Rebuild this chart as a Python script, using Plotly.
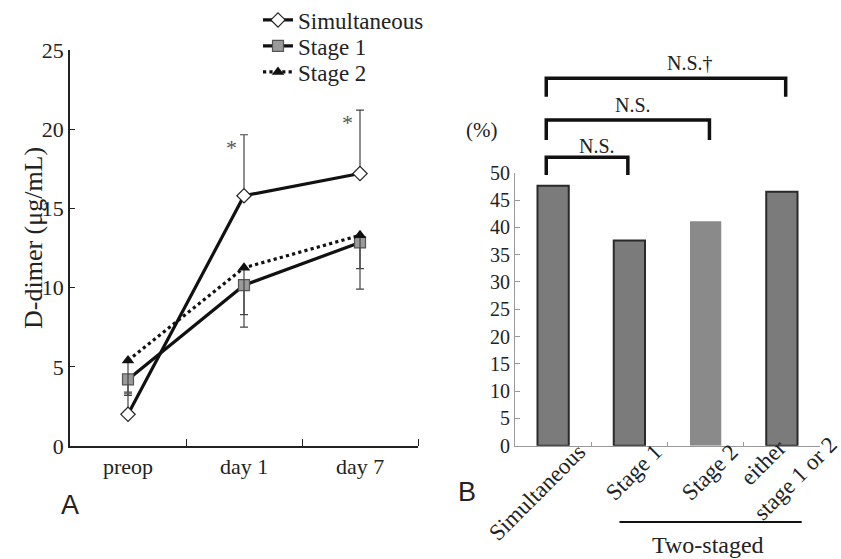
import plotly.graph_objects as go

# ---- data ----
timepoints = ["preop", "day 1", "day 7"]
sim_vals = [2.0, 15.8, 17.2]
sim_err_up = [1.3, 3.85, 4.0]
st1_vals = [4.2, 10.15, 12.85]
st1_err_dn = [1.0, 2.65, 2.95]
st2_vals = [5.4, 11.25, 13.3]
st2_err_dn = [2.0, 2.95, 2.1]
sig_marks = ["", "*", "*"]

bar_cats = ["Simultaneous", "Stage 1", "Stage 2", "either|stage 1 or 2"]
bar_vals = [47.6, 37.6, 41.1, 46.5]
bar_fill = ["#7b7b7b", "#7b7b7b", "#8a8a8a", "#7b7b7b"]
bar_edge_w = [2, 2, 0, 2]
brackets = [(1, "N.S."), (2, "N.S."), (3, "N.S.†")]

W, H = 841, 559
def py(p):
    return 1 - p / H
def px(p):
    return p / W

SERIF = "Liberation Serif, Times New Roman, serif"
SANS = "Liberation Sans, Arial, sans-serif"

fig = go.Figure()
xi = list(range(len(timepoints)))

fig.add_trace(go.Scatter(
    x=xi, y=sim_vals, name="Simultaneous", mode="lines+markers", legend="legend",
    line=dict(color="#111", width=3.2),
    marker=dict(symbol="diamond", size=11, color="white", line=dict(color="#222", width=1.2)),
    error_y=dict(type="data", symmetric=False, array=sim_err_up, arrayminus=[0, 0, 0],
                 color="#444", thickness=1.2, width=4),
    xaxis="x", yaxis="y"))
fig.add_trace(go.Scatter(
    x=xi, y=st1_vals, name="Stage 1", mode="lines+markers", legend="legend2",
    line=dict(color="#111", width=3.2),
    marker=dict(symbol="square", size=11, color="#9a9a9a", line=dict(color="#555", width=1.2)),
    error_y=dict(type="data", symmetric=False, array=[0, 0, 0], arrayminus=st1_err_dn,
                 color="#444", thickness=1.2, width=4),
    xaxis="x", yaxis="y"))
fig.add_trace(go.Scatter(
    x=xi, y=st2_vals, name="Stage 2", mode="lines+markers", legend="legend3",
    line=dict(color="#111", width=3.2, dash="dot"),
    marker=dict(symbol="triangle-up", size=11, color="#111"),
    error_y=dict(type="data", symmetric=False, array=[0, 0, 0], arrayminus=st2_err_dn,
                 color="#444", thickness=1.2, width=4),
    xaxis="x", yaxis="y"))

bi = list(range(len(bar_cats)))
fig.add_trace(go.Bar(
    x=bi, y=bar_vals, width=0.41, showlegend=False,
    marker=dict(color=bar_fill, line=dict(color="#2a2a2a", width=bar_edge_w)),
    xaxis="x2", yaxis="y2"))

annotations = []
shapes = []

def ann(**kw):
    kw.setdefault("showarrow", False)
    kw.setdefault("xanchor", "center")
    kw.setdefault("yanchor", "middle")
    annotations.append(kw)

# significance asterisks on panel A
for i, m in enumerate(sig_marks):
    if m:
        ann(x=i, y=sim_vals[i] + sim_err_up[i], xref="x", yref="y", text=m,
            yanchor="top", xshift=-13, yshift=2,
            font=dict(family=SERIF, size=22, color="#555"))

# brackets on panel B
br_y = [(0.7186, 0.6869, 0.739), (0.7853, 0.7496, 0.812), (0.860, 0.827, 0.887)]
label_x = [0.58, 1.05, 1.80]
right_x = [0.98, 2.05, 3.05]
for k, (j, lab) in enumerate(brackets):
    yt, yb, yl = br_y[k]
    x0 = -0.09
    x1 = right_x[k]
    shapes.append(dict(type="path", xref="x2", yref="paper",
                       path=f"M {x0},{yb} L {x0},{yt} L {x1},{yt} L {x1},{yb}",
                       line=dict(color="#111", width=3.5)))
    ann(x=label_x[k], y=yl, xref="x2", yref="paper", text=lab,
        font=dict(family=SERIF, size=20, color="#222"))

# rotated category labels for panel B (two-line label split into its lines)
ANG = -45
for i, c in enumerate(bar_cats):
    parts = c.split("|")
    if len(parts) == 1:
        ann(x=i, y=py(437), xref="x2", yref="paper", text=c, textangle=ANG,
            xanchor="right", yanchor="top", xshift=40,
            font=dict(family=SERIF, size=23, color="#222"))
    else:
        ann(x=i, y=py(432), xref="x2", yref="paper", text=parts[0], textangle=ANG,
            xanchor="right", yanchor="top", xshift=12,
            font=dict(family=SERIF, size=23, color="#222"))
        ann(x=i, y=py(429), xref="x2", yref="paper", text=parts[1], textangle=ANG,
            xanchor="right", yanchor="top", xshift=63,
            font=dict(family=SERIF, size=23, color="#222"))

# Two-staged group line + label
shapes.append(dict(type="line", xref="x2", yref="paper", x0=0.87, x1=3.26, y0=py(522), y1=py(522),
                   line=dict(color="#111", width=2)))
ann(x=px(708), y=py(545), xref="paper", yref="paper", text="Two-staged",
    font=dict(family=SERIF, size=24, color="#222"))
ann(x=px(481), y=py(130), xref="paper", yref="paper", text="(%)",
    font=dict(family=SERIF, size=21, color="#222"))
ann(x=px(33), y=py(238), xref="paper", yref="paper", text="D-dimer (μg/mL)",
    textangle=-90, font=dict(family=SERIF, size=26, color="#222"))
ann(x=px(70), y=py(505), xref="paper", yref="paper", text="A",
    font=dict(family=SANS, size=27, color="#222"))
ann(x=px(467), y=py(492), xref="paper", yref="paper", text="B",
    font=dict(family=SANS, size=27, color="#222"))

leg_common = dict(xanchor="left", yanchor="middle", bgcolor="rgba(0,0,0,0)",
                  font=dict(family=SERIF, size=23, color="#222"), borderwidth=0)

fig.update_layout(
    width=W, height=H, margin=dict(l=0, r=0, t=0, b=0, autoexpand=False),
    paper_bgcolor="white", plot_bgcolor="white",
    font=dict(family=SERIF, color="#222"),
    showlegend=True,
    legend=dict(x=px(258), y=py(20), **leg_common),
    legend2=dict(x=px(258), y=py(46), **leg_common),
    legend3=dict(x=px(258), y=py(72), **leg_common),
    xaxis=dict(domain=[px(70), px(418)], range=[-0.5, 2.5],
               tickmode="array", tickvals=xi, ticktext=timepoints, ticks="",
               tickfont=dict(family=SERIF, size=22, color="#222"),
               minor=dict(tickmode="array", tickvals=[0.5, 1.5, 2.5], ticks="inside",
                          ticklen=7, tickcolor="#222", tickwidth=1.2),
               showline=True, linecolor="#222", linewidth=1.5, showgrid=False,
               zeroline=False, anchor="y", automargin=False),
    yaxis=dict(domain=[py(446), py(50)], range=[0, 25], tickvals=[0, 5, 10, 15, 20, 25],
               ticks="inside", ticklen=5, tickcolor="#222", tickwidth=1.2,
               tickfont=dict(family=SERIF, size=22, color="#222"),
               showline=True, linecolor="#222", linewidth=1.5, showgrid=False,
               zeroline=False, anchor="x", automargin=False),
    xaxis2=dict(domain=[px(515), px(820)], range=[-0.5, 3.5],
                tickvals=bi, ticktext=["" for _ in bi], ticks="",
                minor=dict(tickmode="array", tickvals=[0.5, 1.5, 2.5], ticks="inside",
                           ticklen=4, tickcolor="#999", tickwidth=1),
                showline=True, linecolor="#999", linewidth=1, showgrid=False,
                zeroline=False, anchor="y2", automargin=False),
    yaxis2=dict(domain=[py(445.7), py(172.7)], range=[0, 50], dtick=5,
                ticks="inside", ticklen=5, tickcolor="#999", tickwidth=1,
                tickfont=dict(family=SERIF, size=20, color="#222"),
                showline=True, linecolor="#999", linewidth=1, showgrid=False,
                zeroline=False, anchor="x2", automargin=False),
    annotations=annotations, shapes=shapes,
)

fig.write_html("out.html")
